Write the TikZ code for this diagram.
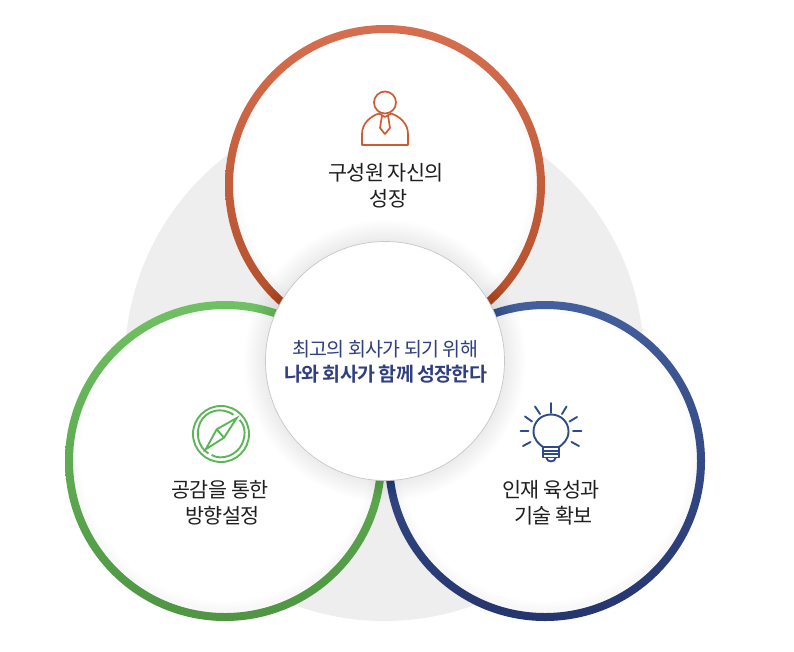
\documentclass[tikz,border=0pt]{standalone}
\usepackage{fontspec}
\usetikzlibrary{calc}
\setmainfont[LetterSpace=-4,BoldFont={Noto Sans CJK KR Bold}]{Noto Sans CJK KR}
\definecolor{orangeT}{HTML}{D56F4F}
\definecolor{orangeB}{HTML}{B04C28}
\definecolor{greenT}{HTML}{70C163}
\definecolor{greenB}{HTML}{4F9543}
\definecolor{blueT}{HTML}{435F9C}
\definecolor{blueB}{HTML}{25356E}
\definecolor{orangeI}{HTML}{CF5B33}
\definecolor{greenI}{HTML}{5DB558}
\definecolor{blueI}{HTML}{2F4A8C}
\definecolor{headC}{HTML}{2F3F7F}
\newcommand{\ringdisc}[3]{%
  \fill[white] (#1) circle[radius=160];
  \begin{scope}
    \clip (#1) circle[radius=153];
    \foreach \k in {1,...,7}{%
      \draw[black,opacity=.005,line width={\k*2.5pt}] ($(#1)+(0,-4)$) circle[radius=153];}
  \end{scope}
  \shade[top color=#2,bottom color=#3,even odd rule]
     (#1) circle[radius=160] (#1) circle[radius=152];}
\begin{document}
\begin{tikzpicture}[x=1pt,y=-1pt,
  lbl/.style={font=\fontsize{20.7}{26}\selectfont,text=black!88,align=center,inner sep=0},
  icon/.style={line width=1.9pt,line cap=round,line join=round}]
\useasboundingbox[fill=white] (0,0) rectangle (794,651);
\fill[black!6.5] (384.5,361.5) circle[radius=259.5];
\coordinate (T) at (385,185);
\coordinate (L) at (225,461);
\coordinate (R) at (545,461);
\coordinate (C) at (385,361);
\ringdisc{T}{orangeT}{orangeB}
\ringdisc{L}{greenT}{greenB}
\ringdisc{R}{blueT}{blueB}
% centre shadow
\foreach \k in {1,...,20}{%
  \draw[black,opacity=.005,line width={\k*2.2pt}] (C) circle[radius=119];}
\node[circle,fill=white,draw=black!22,line width=.7pt,minimum size=239pt,inner sep=0] (centre) at (C) {};
\node[inner sep=0,align=center,text=headC,font=\fontsize{19.5}{25.5}\selectfont] (slogan) at (385.2,361.8)
  {최고의 회사가 되기 위해\\\textbf{나와 회사가 함께 성장한다}};
% labels
\node[lbl] (ltop) at (386,186) {구성원 자신의\\\hspace*{5pt}성장};
\node[lbl] (lleft) at (220,503) {공감을 통한\\\hspace*{5pt}방향설정};
\node[lbl] (lright) at (551,503) {인재 육성과\\\hspace*{5pt}기술 확보};
% person icon
\begin{scope}[icon,line width=1.7pt,draw=orangeI]
  \draw (385,102.5) circle[radius=11];
  \draw (379,113.5) .. controls (371,116) and (362,123) .. (362,134) -- (362,145) -- (408,145) -- (408,134)
     .. controls (408,123) and (399,116) .. (391,113.5);
  \draw (379,113.5) -- (385,117) -- (391,113.5);
  \draw (382,115.5) -- (380,128) -- (385,134) -- (390,128) -- (388,115.5);
\end{scope}
% compass icon
\begin{scope}[icon,draw=greenI,line cap=butt]
  \draw (221,434) circle[radius=28];
  \draw (233.5,414.8) .. controls (221,406) and (206,411) .. (200.5,422)
        .. controls (195,433) and (198,447) .. (208.5,453.5);
  \draw (208.5,453.5) ++(3,1.5) .. controls (222,461) and (237,455) .. (242,444)
        .. controls (247,433) and (244,424) .. (239.5,420);
  \draw[line join=miter] (236.7,418) -- (216.7,429.3) -- (205.7,449.3) -- (224,437.7) -- cycle;
  \draw (216.7,429.3) -- (224,437.7);
\end{scope}
% bulb icon
\begin{scope}[icon,draw=blueI]
  \draw (543,447) .. controls (539,444) and (533.5,439.5) .. (533.5,431.5)
     .. controls (533.5,422) and (541,414.5) .. (551,414.5)
     .. controls (561,414.5) and (568.5,422) .. (568.5,431.5)
     .. controls (568.5,439.5) and (563,444) .. (559,447);
  \draw (543,447) -- (543,457.5) -- (559,457.5) -- (559,447) -- cycle;
  \draw (543,451) -- (559,451);
  \draw (543,454) -- (559,454);
  \draw (546.5,458) .. controls (547,462.5) and (555,462.5) .. (555.5,458);
  \draw (551,403) -- (551,413);
  \draw (535,406.5) -- (540,414);
  \draw (566.5,406.5) -- (562,414);
  \draw (525,416.5) -- (532,421.5);
  \draw (577,417) -- (569.5,421.5);
  \draw (520.5,431) -- (528.5,431);
  \draw (581.5,431) -- (573,431);
  \draw (523,446) -- (530.5,442);
  \draw (579,446) -- (571.5,442);
\end{scope}
\end{tikzpicture}
\end{document}
